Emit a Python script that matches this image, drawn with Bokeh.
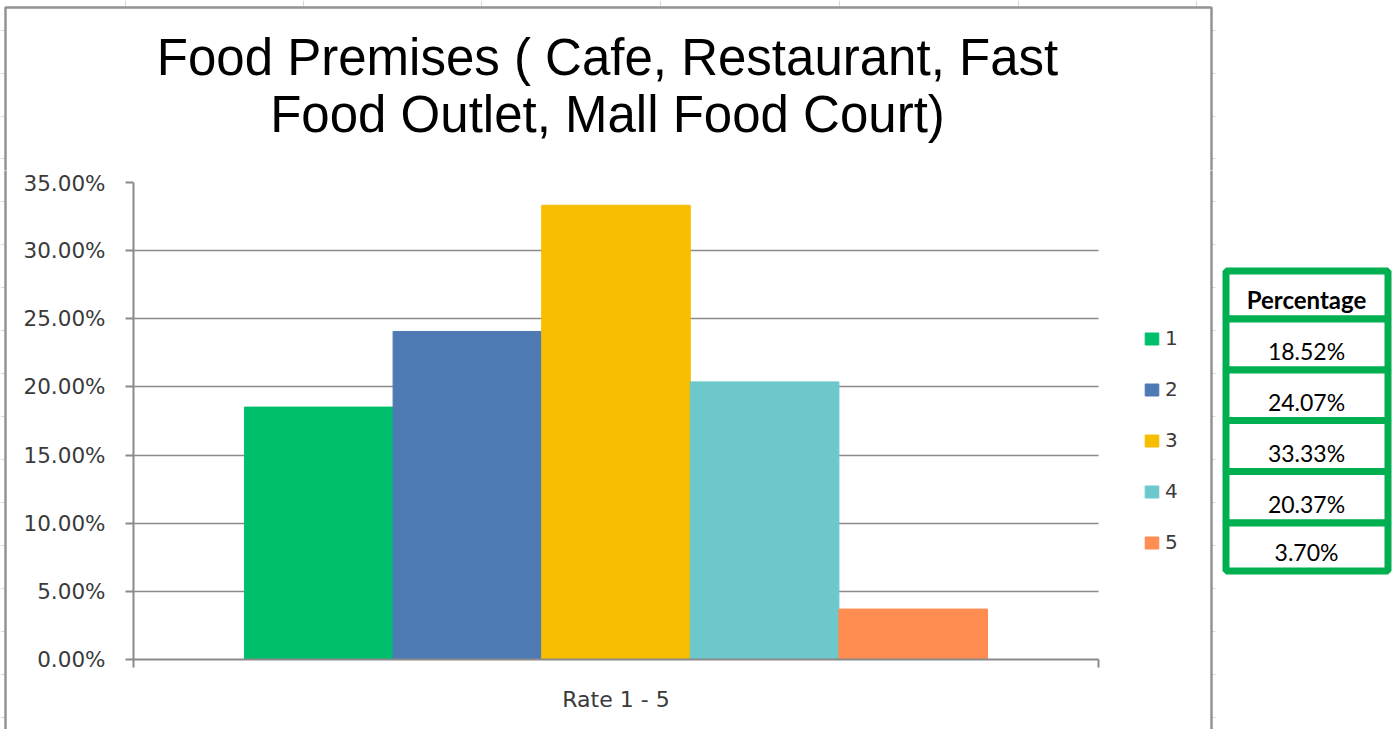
from bokeh.plotting import figure
from bokeh.layouts import row, column
from bokeh.models import (ColumnDataSource, Range1d, FixedTicker, NumeralTickFormatter,
                          Legend, LegendItem, Grid)
from bokeh.core.properties import value
from bokeh.embed import file_html
from bokeh.resources import INLINE

# ---- data ----
categories = ["1", "2", "3", "4", "5"]
values = [0.1852, 0.2407, 0.3333, 0.2037, 0.0370]
colors = ["#00BF6C", "#4E7AB3", "#F7BE00", "#6CC8CB", "#FF8C50"]
y_ticks = [0.0, 0.05, 0.10, 0.15, 0.20, 0.25, 0.30, 0.35]
x_category = "Rate 1 - 5"
title_lines = ["Food Premises ( Cafe, Restaurant, Fast", "Food Outlet, Mall Food Court)"]
table_header = "Percentage"
table_values = [f"{v * 100:.2f}%" for v in values]

# ---- page layout (pixels) ----
W, H = 1395, 729
TOP_H, LEFT_W, RIGHT_X = 170, 7, 1209          # pieces around the chart figure
L, R, T, B = 133, 1098, 182, 659               # plot area on the page
YMAX = 0.35

sheet_cols = [125, 303, 481, 660, 839, 1018, 1196]
sheet_rows = [30, 73, 116, 158, 201, 244, 287, 330, 373, 416, 459, 502, 545, 588, 631, 674, 717]
border_color = "#939393"
green = "#00B050"


def piece(width, height, x0, y0):
    f = figure(width=width, height=height, output_backend="svg", toolbar_location=None,
               x_range=Range1d(x0, x0 + width), y_range=Range1d(y0 + height, y0),
               x_axis_type=None, y_axis_type=None, min_border=0, frame_align=False)
    f.grid.visible = False
    f.outline_line_color = None
    f.background_fill_color = "white"
    f.border_fill_color = "white"
    # faint spreadsheet cell lines around the chart
    f.segment(x0=sheet_cols, y0=[0] * len(sheet_cols), x1=sheet_cols, y1=[7] * len(sheet_cols),
              line_color="#D9D9D9", line_width=1)
    f.segment(x0=[0] * len(sheet_rows), y0=sheet_rows, x1=[5] * len(sheet_rows), y1=sheet_rows,
              line_color="#D9D9D9", line_width=1)
    f.segment(x0=[1211] * len(sheet_rows), y0=sheet_rows, x1=[1215] * len(sheet_rows),
              y1=sheet_rows, line_color="#D9D9D9", line_width=1)
    # chart-area border
    f.quad(left=[5], right=[1211], top=[7], bottom=[H + 10], fill_color="white",
           line_color=border_color, line_width=2.5)
    return f


top_piece = piece(W, TOP_H, 0, 0)
left_piece = piece(LEFT_W, H - TOP_H, 0, TOP_H)
right_piece = piece(W - RIGHT_X, H - TOP_H, RIGHT_X, TOP_H)

# title
top_piece.text(x=[607, 607], y=[57, 114], text=title_lines, text_align="center",
               text_baseline="alphabetic", text_font=value("Liberation Sans"),
               text_font_size="51px", text_color="black")

# table
lines_y = [270.5, 318.5, 369.5, 420.0, 471.0, 522.5, 570.5]
right_piece.quad(left=[1225.5] * 6, right=[1387.5] * 6, top=lines_y[:-1], bottom=lines_y[1:],
                 fill_color="white", line_color=green, line_width=7)
right_piece.text(x=[1306], y=[299], text=[table_header], text_align="center",
                 text_baseline="alphabetic", text_font=value("Lato"), text_font_style="bold",
                 text_font_size="24px", text_color="black")
right_piece.text(x=[1306] * len(table_values), y=[ly - 19 for ly in lines_y[2:]],
                 text=table_values, text_align="center", text_baseline="alphabetic",
                 text_font=value("Lato"), text_font_size="23px", text_color="black")

# ================= chart =================
bar_w = 0.154
xs = [0.5 + (i - 2) * bar_w for i in range(len(values))]
src = ColumnDataSource(dict(x=xs, top=values, color=colors, label=categories))

PW, PH = RIGHT_X - LEFT_W, H - TOP_H
x_end = (RIGHT_X - L) / (R - L)     # frame continues to the right edge for the legend
p = figure(width=PW, height=PH, output_backend="svg", toolbar_location=None,
           x_range=Range1d(0, x_end), y_range=Range1d(0, YMAX), frame_align=False,
           min_border_left=L - LEFT_W, min_border_right=0,
           min_border_top=T - TOP_H, min_border_bottom=H - B)
p.outline_line_color = None
p.background_fill_color = "white"
p.border_fill_color = "white"

r = p.vbar(x="x", top="top", width=bar_w, color="color", source=src)

grey = "#8A8A8A"
p.yaxis.ticker = FixedTicker(ticks=y_ticks)
p.yaxis.formatter = NumeralTickFormatter(format="0.00%")
p.yaxis.axis_line_color = grey
p.yaxis.axis_line_width = 2
p.yaxis.major_tick_line_color = grey
p.yaxis.major_tick_line_width = 2
p.yaxis.major_tick_out = 8
p.yaxis.major_tick_in = 0
p.yaxis.minor_tick_line_color = None
p.yaxis.major_label_text_font = "DejaVu Sans"
p.yaxis.major_label_text_font_size = "21.5px"
p.yaxis.major_label_text_color = "#3A3A3A"
p.yaxis.major_label_standoff = 20

p.xaxis.ticker = FixedTicker(ticks=[0.5], minor_ticks=[0, 1])
p.xaxis.bounds = (0, 1)
p.xaxis.major_label_overrides = {0.5: x_category}
p.xaxis.axis_line_color = grey
p.xaxis.axis_line_width = 2
p.xaxis.major_tick_line_color = None
p.xaxis.minor_tick_line_color = grey
p.xaxis.minor_tick_line_width = 2
p.xaxis.minor_tick_out = 8
p.xaxis.minor_tick_in = 0
p.xaxis.major_label_text_font = "DejaVu Sans"
p.xaxis.major_label_text_font_size = "22px"
p.xaxis.major_label_text_color = "#3A3A3A"
p.xaxis.major_label_standoff = 19

p.xgrid.grid_line_color = None
if "cross_bounds" in Grid.properties():
    p.ygrid.ticker = FixedTicker(ticks=y_ticks)
    p.ygrid.cross_bounds = (0, 1)
    p.ygrid.grid_line_color = grey
    p.ygrid.grid_line_width = 1.5
else:
    p.ygrid.grid_line_color = None
    p.segment(x0=[0] * len(y_ticks), x1=[1] * len(y_ticks), y0=y_ticks, y1=y_ticks,
              line_color=grey, line_width=1.5, level="underlay")

items = [LegendItem(label=c, renderers=[r], index=i) for i, c in enumerate(categories)]
lg = Legend(items=items, location=(1143 - L, 105), padding=0, margin=0,
            border_line_color=None, background_fill_alpha=0,
            glyph_width=17, glyph_height=15, label_height=20, spacing=27,
            label_standoff=5, label_text_font="DejaVu Sans",
            label_text_font_size="20px", label_text_color="#3A3A3A")
p.add_layout(lg, "center")

layout = column(top_piece, row(left_piece, p, right_piece, spacing=0), spacing=0)
open("out.html", "w").write(file_html(layout, INLINE))
